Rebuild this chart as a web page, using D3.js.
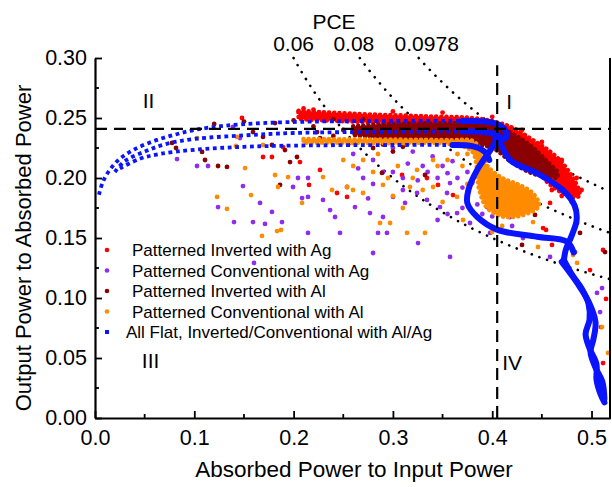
<!DOCTYPE html>
<html>
<head>
<meta charset="utf-8">
<script src="https://cdn.jsdelivr.net/npm/d3@7"></script>
<style>
  body { margin: 0; background: #fff; }
  svg { display: block; font-family: "Liberation Sans", Arial, sans-serif; }
</style>
</head>
<body>
<div id="chart"></div>
<script>
// ---------------------------------------------------------------
// data

const xTicks = [0.0, 0.1, 0.2, 0.3, 0.4, 0.5];
const yTicks = [0.00, 0.05, 0.10, 0.15, 0.20, 0.25, 0.30];
const pceLevels = [0.06, 0.08, 0.0978];
const pceLabels = ["0.06", "0.08", "0.0978"];
const refAbsorbed = 0.405;   // vertical dashed line
const refOutput = 0.241;     // horizontal dashed line
const quadrantNames = ["I", "II", "III", "IV"];

const seriesNames = [
  "Patterned Inverted with Ag",
  "Patterned Conventional with Ag",
  "Patterned Inverted with Al",
  "Patterned Conventional with Al",
  "All Flat, Inverted/Conventional with Al/Ag"
];
const seriesColors = ["#ff0000", "#8f2cf0", "#8b0000", "#ff8c00", "#0a14ff"];

// dense cores of the clouds: [absorbed, output low, output high]
const redDense = [
  [0.205, 0.249, 0.256], [0.26, 0.247, 0.2535], [0.33, 0.244, 0.2515],
  [0.39, 0.238, 0.249], [0.42, 0.228, 0.242], [0.44, 0.214, 0.232],
  [0.455, 0.197, 0.224], [0.47, 0.188, 0.213], [0.482, 0.184, 0.199],
  [0.488, 0.185, 0.189]
];
const darkRedDense = [
  [0.26, 0.236, 0.243], [0.30, 0.232, 0.245], [0.35, 0.231, 0.2455],
  [0.40, 0.225, 0.2445], [0.42, 0.213, 0.237], [0.44, 0.204, 0.226],
  [0.455, 0.201, 0.214], [0.466, 0.2, 0.205]
];
const orangeDense = [
  [0.21, 0.2295, 0.2325], [0.30, 0.229, 0.232], [0.36, 0.228, 0.2315],
  [0.38, 0.222, 0.231], [0.387, 0.19, 0.225], [0.395, 0.175, 0.21],
  [0.41, 0.168, 0.2], [0.425, 0.168, 0.195], [0.44, 0.172, 0.188],
  [0.447, 0.176, 0.18]
];

// scattered points: [absorbed, output]
const redPts = [
  [0.148, 0.25], [0.1692, 0.2175], [0.1782, 0.2175], [0.2155, 0.1942],
  [0.2266, 0.2067], [0.2538, 0.1925], [0.2538, 0.1842], [0.2437, 0.1875],
  [0.1893, 0.2258], [0.2064, 0.2133], [0.3092, 0.2025], [0.3343, 0.2],
  [0.3454, 0.1942], [0.3605, 0.1858], [0.4512, 0.1583], [0.4582, 0.1792],
  [0.4602, 0.1442], [0.5116, 0.14], [0.4854, 0.1625], [0.4542, 0.1567],
  [0.4985, 0.1233], [0.5146, 0.0992], [0.5096, 0.0758], [0.5116, 0.0458],
  [0.5086, 0.0342], [0.4814, 0.19],
  [0.205, 0.255], [0.21, 0.258], [0.22, 0.257], [0.3, 0.2555], [0.35, 0.2545],
  [0.4, 0.251], [0.43, 0.24], [0.45, 0.23], [0.47, 0.215], [0.485, 0.2],
  [0.49, 0.19], [0.48, 0.18], [0.47, 0.185], [0.46, 0.19]
];
const purplePts = [
  [0.0826, 0.2158], [0.1027, 0.21], [0.1138, 0.21], [0.149, 0.1933],
  [0.14, 0.1633], [0.1239, 0.1758], [0.1662, 0.1792], [0.1782, 0.1717],
  [0.1591, 0.1633], [0.1712, 0.1617], [0.1883, 0.1633], [0.2145, 0.1542],
  [0.2044, 0.2], [0.2145, 0.2], [0.2085, 0.1833], [0.2145, 0.1842],
  [0.2296, 0.1817], [0.2367, 0.1733], [0.2467, 0.1542], [0.2417, 0.1675],
  [0.1994, 0.1925], [0.139, 0.2425], [0.146, 0.2333], [0.2618, 0.1758],
  [0.2769, 0.1708], [0.29, 0.1675], [0.285, 0.1542], [0.294, 0.1542],
  [0.3253, 0.1458], [0.28, 0.1375], [0.3001, 0.1842], [0.3122, 0.1792],
  [0.3243, 0.1875], [0.3343, 0.1817], [0.3474, 0.1758], [0.3545, 0.1875],
  [0.3575, 0.1958], [0.3646, 0.1708], [0.3776, 0.1625], [0.3978, 0.1542],
  [0.3948, 0.1758], [0.4079, 0.1733], [0.4179, 0.1675], [0.3575, 0.1342],
  [0.431, 0.15], [0.4582, 0.1342], [0.4834, 0.1383], [0.5106, 0.1083],
  [0.5055, 0.1042], [0.5086, 0.0883], [0.5035, 0.0717], [0.1601, 0.1292],
  [0.385, 0.178], [0.39, 0.17], [0.395, 0.182], [0.40, 0.168], [0.405, 0.175],
  [0.32, 0.222], [0.34, 0.218], [0.36, 0.214], [0.33, 0.21], [0.30, 0.225],
  [0.28, 0.215], [0.26, 0.22],
  [0.27, 0.2], [0.28, 0.195], [0.3, 0.205], [0.31, 0.2], [0.315, 0.212],
  [0.325, 0.198], [0.335, 0.205], [0.345, 0.2], [0.35, 0.21], [0.355, 0.204],
  [0.365, 0.2], [0.37, 0.192], [0.375, 0.205], [0.38, 0.196], [0.31, 0.19],
  [0.29, 0.205], [0.265, 0.208], [0.275, 0.183], [0.345, 0.165], [0.355, 0.17],
  [0.37, 0.175], [0.42, 0.16], [0.415, 0.185], [0.43, 0.175], [0.44, 0.185]
];
const darkRedPts = [
  [0.0775, 0.2292], [0.0816, 0.225], [0.1078, 0.2217], [0.1108, 0.215],
  [0.1239, 0.21], [0.1329, 0.2092], [0.1591, 0.2383], [0.1692, 0.2342],
  [0.1813, 0.2458], [0.1913, 0.2233], [0.1964, 0.2133], [0.1863, 0.1942],
  [0.1782, 0.2275], [0.2034, 0.2175], [0.2236, 0.2383], [0.2266, 0.2333],
  [0.289, 0.2042], [0.3323, 0.2025], [0.4431, 0.1692], [0.43, 0.1442],
  [0.5136, 0.1383], [0.4884, 0.1542], [0.5106, 0.0317],
  [0.12, 0.245], [0.15, 0.247], [0.20, 0.248], [0.24, 0.249], [0.27, 0.249],
  [0.22, 0.243], [0.26, 0.238],
  [0.24, 0.235], [0.25, 0.24], [0.255, 0.228], [0.27, 0.23], [0.28, 0.225],
  [0.29, 0.228], [0.3, 0.222], [0.31, 0.226]
];
const orangePts = [
  [0.1229, 0.1842], [0.1329, 0.1742], [0.142, 0.2267], [0.1511, 0.2083],
  [0.1571, 0.1858], [0.1813, 0.2025], [0.1843, 0.1925], [0.1682, 0.1517],
  [0.1833, 0.1558], [0.1873, 0.1567], [0.1944, 0.2008], [0.2085, 0.1792],
  [0.2296, 0.2008], [0.2387, 0.19], [0.2538, 0.1925], [0.143, 0.2342],
  [0.1692, 0.2275], [0.287, 0.1625], [0.2971, 0.1625], [0.3142, 0.1542],
  [0.3323, 0.1542], [0.2598, 0.19], [0.2699, 0.1875], [0.29, 0.1942],
  [0.3172, 0.1925], [0.3404, 0.1925], [0.3646, 0.1842], [0.3706, 0.165],
  [0.4411, 0.1633], [0.4461, 0.1425], [0.3404, 0.215], [0.3243, 0.2067],
  [0.4814, 0.1358], [0.4854, 0.1292], [0.5106, 0.0758], [0.5166, 0.0542],
  [0.1027, 0.2333],
  [0.26, 0.21], [0.27, 0.215], [0.28, 0.205], [0.295, 0.2], [0.305, 0.21],
  [0.32, 0.2], [0.33, 0.19], [0.345, 0.21], [0.355, 0.215], [0.365, 0.22],
  [0.37, 0.21], [0.375, 0.195], [0.3, 0.185], [0.31, 0.175], [0.35, 0.18],
  [0.285, 0.22], [0.25, 0.215], [0.4, 0.155], [0.41, 0.16], [0.375, 0.22]
];

// flat devices: traces, sparse on the left, packed on the right
const flatSparse = [
  [[0.004, 0.186], [0.008, 0.197], [0.015, 0.207], [0.025, 0.216], [0.04, 0.224],
   [0.06, 0.231], [0.08, 0.236], [0.1, 0.24], [0.13, 0.2435], [0.17, 0.2458],
   [0.22, 0.247], [0.3, 0.2475], [0.38, 0.2475]],
  [[0.02, 0.205], [0.03, 0.214], [0.05, 0.222], [0.07, 0.228], [0.1, 0.2325],
   [0.15, 0.2355], [0.2, 0.2375], [0.3, 0.2385], [0.38, 0.239]],
  [[0.025, 0.208], [0.045, 0.216], [0.065, 0.22], [0.1, 0.2235], [0.15, 0.226],
   [0.2, 0.227], [0.3, 0.2275], [0.37, 0.2275]]
];
const flatPacked = [
  [[0.37, 0.2475], [0.395, 0.247], [0.405, 0.245], [0.413, 0.24], [0.415, 0.235],
   [0.41, 0.232], [0.403, 0.233]],
  [[0.37, 0.239], [0.39, 0.2385], [0.405, 0.236], [0.41, 0.233]],
  [[0.36, 0.2275], [0.38, 0.2265], [0.392, 0.222], [0.397, 0.215]],
  [[0.407, 0.235], [0.398, 0.223], [0.385, 0.207], [0.376, 0.19], [0.375, 0.179],
   [0.385, 0.1675], [0.405, 0.157], [0.445, 0.151], [0.475, 0.147], [0.482, 0.138]],
  [[0.407, 0.232], [0.418, 0.215], [0.445, 0.204], [0.471, 0.19], [0.483, 0.177],
   [0.485, 0.165], [0.48, 0.152], [0.474, 0.14], [0.472, 0.13]],
  [[0.472, 0.132], [0.48, 0.12], [0.49, 0.108], [0.497, 0.095], [0.498, 0.082],
   [0.494, 0.07], [0.498, 0.058], [0.505, 0.045], [0.505, 0.032], [0.509, 0.02],
   [0.513, 0.013]],
  [[0.47, 0.13], [0.486, 0.112], [0.497, 0.097], [0.504, 0.08], [0.502, 0.066],
   [0.499, 0.055], [0.504, 0.042], [0.511, 0.03], [0.513, 0.016]]
];

////////////////////////////////////////////////////////////////////////

let width = 612;
let height = 487;

let svg = d3.select("#chart")
  .append("svg")
  .attr("width", width)
  .attr("height", height);

let xScale = d3.scaleLinear().domain([0, 0.5186]).range([95, 610]);
let yScale = d3.scaleLinear().domain([0, 0.30]).range([418, 58]);

// clip to plot area
svg.append("clipPath").attr("id", "clip")
  .append("rect")
  .attr("x", 95).attr("y", 56)
  .attr("width", 516).attr("height", 363);
let plot = svg.append("g").attr("clip-path", "url(#clip)");

// iso-PCE dotted curves
pceLevels.forEach(p => {
  let xs = d3.range(p / 0.30, 0.52, 0.002);
  plot.append("path")
    .datum(xs)
    .attr("d", d3.line().x(d => xScale(d)).y(d => yScale(p / d)))
    .attr("fill", "none")
    .attr("stroke", "#000")
    .attr("stroke-width", 2.6)
    .attr("stroke-linecap", "round")
    .attr("stroke-dasharray", "0.1,8");
});

let area = d3.area()
  .x(d => xScale(d[0]))
  .y0(d => yScale(d[1]))
  .y1(d => yScale(d[2]))
  .curve(d3.curveCatmullRom);

// dense cloud core, with a beaded rim so the edge reads as dots
function cloud(data, color) {
  plot.append("path").datum(data).attr("d", area)
    .attr("fill", color);
  plot.append("path").datum(data).attr("d", area)
    .attr("fill", "none")
    .attr("stroke", color)
    .attr("stroke-width", 4.6)
    .attr("stroke-linecap", "round")
    .attr("stroke-dasharray", "0.1,5");
}

function dots(data, color) {
  plot.append("g")
    .selectAll("circle")
    .data(data)
    .enter()
    .append("circle")
    .attr("cx", d => xScale(d[0]))
    .attr("cy", d => yScale(d[1]))
    .attr("r", 2.4)
    .attr("fill", color);
}

cloud(redDense, seriesColors[0]);
dots(redPts, seriesColors[0]);
dots(purplePts, seriesColors[1]);
cloud(darkRedDense, seriesColors[2]);
dots(darkRedPts, seriesColors[2]);
cloud(orangeDense, seriesColors[3]);
dots(orangePts, seriesColors[3]);

// flat devices
let line = d3.line()
  .x(d => xScale(d[0]))
  .y(d => yScale(d[1]))
  .curve(d3.curveCatmullRom);

flatSparse.forEach(tr => {
  plot.append("path").datum(tr).attr("d", line)
    .attr("fill", "none")
    .attr("stroke", seriesColors[4])
    .attr("stroke-width", 3.8)
    .attr("stroke-dasharray", "3.8,3.6");
});
flatPacked.forEach(tr => {
  plot.append("path").datum(tr).attr("d", line)
    .attr("fill", "none")
    .attr("stroke", seriesColors[4])
    .attr("stroke-width", 6)
    .attr("stroke-linejoin", "round")
    .attr("stroke-linecap", "round");
});

// dashed reference lines
svg.append("line")
  .attr("x1", xScale(0)).attr("x2", xScale(0.5186))
  .attr("y1", yScale(refOutput)).attr("y2", yScale(refOutput))
  .attr("stroke", "#000").attr("stroke-width", 2.2)
  .attr("stroke-dasharray", "12,7");
svg.append("line")
  .attr("x1", xScale(refAbsorbed)).attr("x2", xScale(refAbsorbed))
  .attr("y1", yScale(0)).attr("y2", yScale(0.294))
  .attr("stroke", "#000").attr("stroke-width", 2.2)
  .attr("stroke-dasharray", "12,7");

// axes
let xAxis = d3.axisBottom(xScale).tickValues(xTicks).tickSizeInner(-7).tickSizeOuter(0)
  .tickFormat(d3.format(".1f")).tickPadding(12);
let yAxis = d3.axisLeft(yScale).tickValues(yTicks).tickSizeInner(-7).tickSizeOuter(0)
  .tickFormat(d3.format(".2f")).tickPadding(8);

let gx = svg.append("g").attr("transform", "translate(0,418)").call(xAxis);
let gy = svg.append("g").attr("transform", "translate(95,0)").call(yAxis);
[gx, gy].forEach(g => {
  g.select(".domain").attr("stroke-width", 2.2);
  g.selectAll(".tick line").attr("stroke-width", 1.8);
  g.selectAll(".tick text").attr("font-size", 21.5).attr("fill", "#000")
    .attr("font-family", "Liberation Sans, Arial, sans-serif");
});

// minor ticks
svg.append("g").selectAll("line")
  .data(d3.range(0.05, 0.52, 0.1))
  .enter().append("line")
  .attr("x1", d => xScale(d)).attr("x2", d => xScale(d))
  .attr("y1", 418).attr("y2", 414)
  .attr("stroke", "#000").attr("stroke-width", 1.8);
svg.append("g").selectAll("line")
  .data(d3.range(0.025, 0.3, 0.05))
  .enter().append("line")
  .attr("x1", 95).attr("x2", 99)
  .attr("y1", d => yScale(d)).attr("y2", d => yScale(d))
  .attr("stroke", "#000").attr("stroke-width", 1.8);

// right border
svg.append("line")
  .attr("x1", 610).attr("x2", 610).attr("y1", 58).attr("y2", 419)
  .attr("stroke", "#000").attr("stroke-width", 2);

// axis titles
svg.append("text")
  .attr("x", 354).attr("y", 477)
  .attr("text-anchor", "middle")
  .attr("font-size", 22.5)
  .text("Absorbed Power to Input Power");
svg.append("text")
  .attr("transform", "translate(31,248) rotate(-90)")
  .attr("text-anchor", "middle")
  .attr("font-size", 22)
  .text("Output Power to Absorbed Power");

// PCE labels on top
svg.append("text")
  .attr("x", 334).attr("y", 29)
  .attr("text-anchor", "middle")
  .attr("font-size", 21)
  .text("PCE");
pceLevels.forEach((p, i) => {
  svg.append("text")
    .attr("x", xScale(p / 0.30) + [0, -6, 8][i]).attr("y", 51)
    .attr("text-anchor", "middle")
    .attr("font-size", 21)
    .text(pceLabels[i]);
});

// quadrant labels
let quadPos = [[0.417, 0.264], [0.054, 0.265], [0.056, 0.048], [0.42, 0.046]];
quadrantNames.forEach((q, i) => {
  svg.append("text")
    .attr("x", xScale(quadPos[i][0])).attr("y", yScale(quadPos[i][1]) + 7.5)
    .attr("text-anchor", "middle")
    .attr("font-size", 21)
    .text(q);
});

// legend
let legend = svg.append("g");
seriesNames.forEach((name, i) => {
  let yy = 250 + i * 20.5;
  if (i < 4) {
    legend.append("circle").attr("cx", 107).attr("cy", yy).attr("r", 2.3)
      .attr("fill", seriesColors[i]);
  } else {
    legend.append("rect").attr("x", 105).attr("y", yy - 2).attr("width", 4).attr("height", 4)
      .attr("fill", seriesColors[i]);
  }
  legend.append("text")
    .attr("x", i < 4 ? 132 : 126).attr("y", yy + 6)
    .attr("font-size", 17)
    .text(name);
});
</script>
</body>
</html>
